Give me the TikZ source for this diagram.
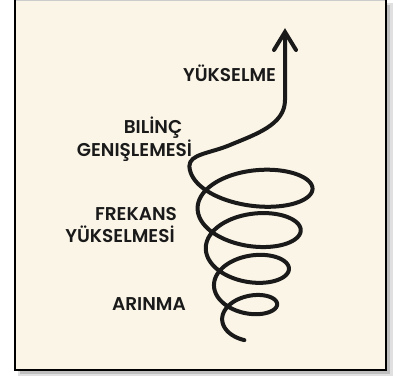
\documentclass[tikz,border=0pt]{standalone}
\usepackage{fontspec}
\newfontfamily\lab{Poppins}[UprightFont=* SemiBold]
\definecolor{cream}{HTML}{FBF5E7}
\definecolor{ink}{HTML}{1A1A1A}
\begin{document}
\begin{tikzpicture}[x=1pt,y=-1pt,
  lab/.style={font=\lab\fontsize{18.5}{18.5}\selectfont, text=ink, inner sep=0pt, anchor=base},
  spiral/.style={line width=4pt, draw=ink, line cap=round, line join=round},
  tiphead/.style={line width=4pt, draw=ink, line cap=round, line join=miter}]
\useasboundingbox (0,0) rectangle (393,376);
\fill[white] (0,0) rectangle (393,376);
% shadow
\fill[black!12] (387,3) rectangle (393,376);
\fill[black!12] (18,371) rectangle (393,376);
\fill[black!25] (387,5) rectangle (390,374);
\fill[black!25] (20,371) rectangle (390,374);
% card
\fill[cream] (15,0) rectangle (386,370);
\draw[black!20, line width=1pt] (15,0.5) -- (386,0.5);
\draw[black, line width=2.2pt] (15,-3) -- (15,370) -- (386,370) -- (386,-3);
% spiral
\draw[spiral] (285,36) -- (285,100)
  .. controls (285,125) and (255,134.5) .. (230,145)
  .. controls (210,153.4) and (189.4,154) .. (189.4,166)
  -- plot[domain=180:1705, samples=500]
  ({253-1.8*(\x/360-1)+(59.5-10*(\x/360-1))*cos(\x)},
   {188+43*(\x/360-1)-1.5*(\x/360-1)*(\x/360-1)-(28.5-1.5*(\x/360-1)-0.75*(\x/360-1)*(\x/360-1))*sin(\x)});
\draw[tiphead] (274,50) -- (285,32) -- (296,50);
% labels
\node[lab] (yuk) at (229.5,81) {YÜKSELME};
\node[lab] (bil) at (153,133) {BILİNÇ};
\node[lab] (gen) at (134.5,156) {GENIŞLEMESİ};
\node[lab] (fre) at (136,220) {FREKANS};
\node[lab] (yuks) at (120,242) {YÜKSELMESİ};
\node[lab] (ari) at (149,310) {ARINMA};
\end{tikzpicture}
\end{document}
